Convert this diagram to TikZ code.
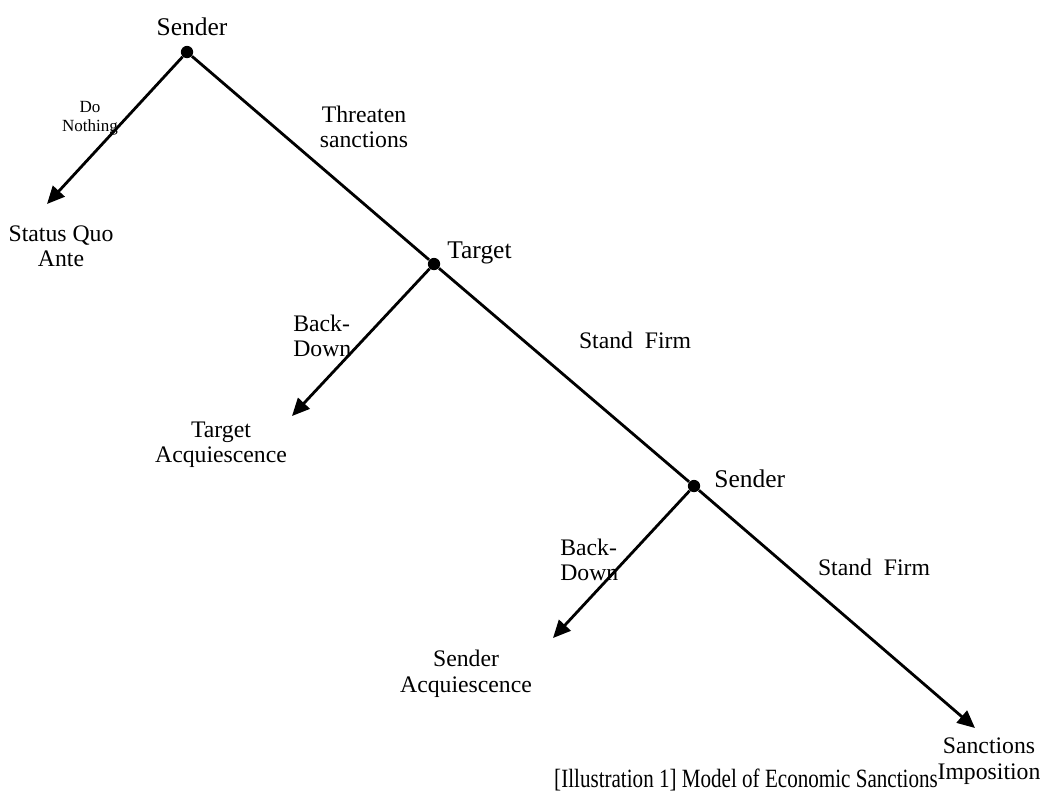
\documentclass[tikz,border=0pt]{standalone}
\usepackage{fontspec}
\setmainfont{Liberation Serif}
\newfontfamily\capfont{Liberation Serif}[FakeStretch=0.8]
\usetikzlibrary{arrows.meta}

\begin{document}
\begin{tikzpicture}[x=0.02cm, y=-0.02cm,
    dot/.style={circle, fill=black, inner sep=0pt, minimum size=7pt},
    move/.style={line width=1.6pt},
    final/.style={move, -{Triangle[length=10pt, width=9pt]}},
    player/.style={font=\fontsize{14.5}{15}\selectfont, inner sep=0pt},
    lbl/.style={font=\fontsize{13.5}{14.5}\selectfont, align=center, inner sep=0pt},
    small/.style={font=\fontsize{9.7}{10.8}\selectfont, align=center, inner sep=0pt}]
    \useasboundingbox (0,0) rectangle (1043,792);

    % decision points
    \node[dot] (s1) at (187,52) {};
    \node[dot] (tg) at (434,264) {};
    \node[dot] (s2) at (694,486) {};
    \node[player] (s1lbl) at (192,27) {Sender};
    \node[player, anchor=west] (tglbl) at (447,253) {Target};
    \node[player, anchor=west] (s2lbl) at (714,479) {Sender};

    % outcomes
    \coordinate (sq) at (47,204);
    \coordinate (ta) at (292,416);
    \coordinate (sa) at (553,638);
    \coordinate (si) at (975,728);
    \node[lbl] (sqlbl) at (61,246) {Status Quo\\Ante};
    \node[lbl] (talbl) at (221,445) {Target\\Acquiescence};
    \node[lbl] (salbl) at (466,674) {Sender\\Acquiescence};
    \node[lbl] (silbl) at (989,761) {Sanctions\\Imposition};

    % moves
    \draw[final] (s1) -- (sq);
    \draw[move] (s1) -- (tg);
    \draw[final] (tg) -- (ta);
    \draw[move] (tg) -- (s2);
    \draw[final] (s2) -- (sa);
    \draw[final] (s2) -- (si);

    \node[small] (dn) at (90,118) {Do\\Nothing};
    \node[lbl] (th) at (364,127) {Threaten\\sanctions};
    \node[lbl, anchor=west, align=left] (bd1) at (293,336) {Back-\\Down};
    \node[lbl] (sf1) at (635,340) {Stand\ \ Firm};
    \node[lbl, anchor=west, align=left] (bd2) at (560,560) {Back-\\Down};
    \node[lbl] (sf2) at (874,567) {Stand\ \ Firm};

    \node[font=\capfont\fontsize{15}{15}\selectfont, anchor=base, inner sep=0pt] (cap) at (746,787) {[Illustration 1] Model of Economic Sanctions};
\end{tikzpicture}
\end{document}
